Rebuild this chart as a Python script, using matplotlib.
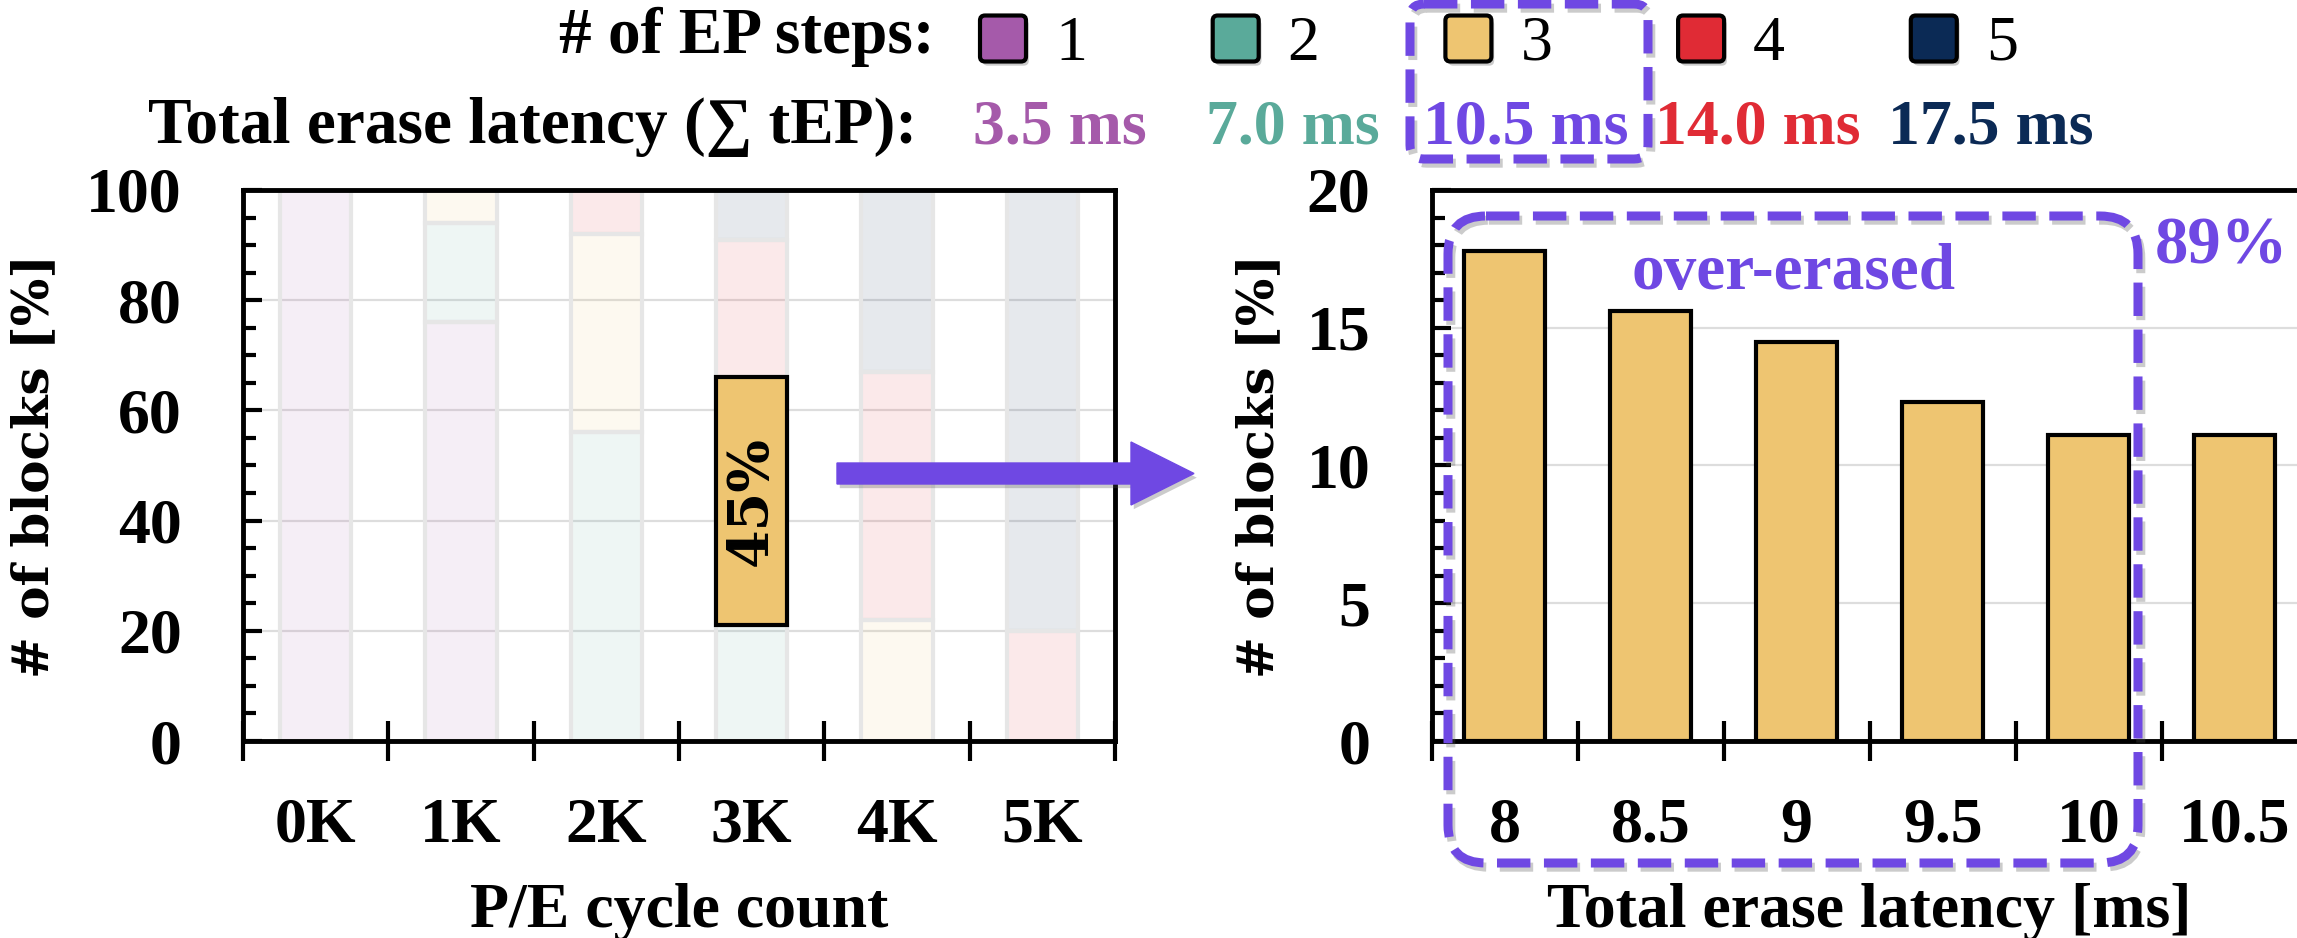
import matplotlib
matplotlib.use("Agg")
import numpy as np
import matplotlib.pyplot as plt
import matplotlib.patheffects as pe
from matplotlib.patches import FancyBboxPatch, FancyArrow
from matplotlib.colors import to_rgba
from matplotlib.ticker import MultipleLocator, FixedLocator

# ---- data -------------------------------------------------------------
pe_cycles = ["0K", "1K", "2K", "3K", "4K", "5K"]
ep_steps = [1, 2, 3, 4, 5]
total_latency_ms = [3.5, 7.0, 10.5, 14.0, 17.5]

# share of blocks [%] needing n erase-pulse steps, per P/E cycle count
share_1step = [100, 76, 0, 0, 0, 0]
share_2step = [0, 18, 56, 21, 0, 0]
share_3step = [0, 6, 36, 45, 22, 0]
share_4step = [0, 0, 8, 25, 45, 20]
share_5step = [0, 0, 0, 9, 33, 80]
highlight_cycle = "3K"
highlight_step = 3

# distribution of the 3-step blocks over total erase latency
latency_bins = ["8", "8.5", "9", "9.5", "10", "10.5"]
block_share = [17.8, 15.6, 14.5, 12.3, 11.1, 11.1]
over_erased_pct = 89

step_colors = ["#A55AAA", "#5AAA9A", "#EEC571", "#E02B35", "#0B2A55"]
accent = "#6F48E3"

# ---- figure setup -----------------------------------------------------
plt.rcParams["font.family"] = ["Liberation Serif", "DejaVu Serif"]
plt.rcParams["font.weight"] = "bold"

W, H = 2297, 938
fig = plt.figure(figsize=(W / 100, H / 100), dpi=100)
fig.patch.set_facecolor("white")

axL = fig.add_axes([243 / W, 197 / H, 872 / W, 551 / H])
axR = fig.add_axes([1431.6 / W, 197 / H, 876 / W, 551 / H])


def style_axes(ax, labels, ymax, major, minor):
    n = len(labels)
    ax.set_xlim(-0.5, n - 0.5)
    ax.set_ylim(0, ymax)
    ax.yaxis.set_major_locator(MultipleLocator(major))
    ax.yaxis.set_minor_locator(MultipleLocator(minor))
    ax.tick_params(axis="y", which="major", direction="in", length=14,
                   width=3, pad=44, labelsize=46)
    ax.tick_params(axis="y", which="minor", direction="in", length=9, width=3)
    ax.set_xticks(range(n))
    ax.set_xticklabels(labels)
    ax.xaxis.set_minor_locator(FixedLocator(np.arange(-0.5, n, 1.0)))
    ax.tick_params(axis="x", which="major", length=0, pad=41, labelsize=46)
    ax.tick_params(axis="x", which="minor", direction="inout", length=29, width=3)
    for s in ax.spines.values():
        s.set_linewidth(3.5)
    ax.grid(axis="y", which="major", color="#dddddd", lw=1.6)
    ax.set_axisbelow(True)


# ---- left: stacked share of EP steps ---------------------------------
style_axes(axL, pe_cycles, 100, 20, 5)
x = np.arange(len(pe_cycles))
shares = [share_1step, share_2step, share_3step, share_4step, share_5step]
bottom = np.zeros(len(pe_cycles))
for vals, col in zip(shares, step_colors):
    vals = np.array(vals, dtype=float)
    m = vals > 0
    axL.bar(x[m], vals[m], width=0.49, bottom=bottom[m],
            facecolor=to_rgba(col, 0.1), edgecolor="#e6e6e6", linewidth=3, zorder=2)
    bottom += vals

hi = pe_cycles.index(highlight_cycle)
k = highlight_step - 1
hi_bottom = sum(shares[j][hi] for j in range(k))
hi_val = shares[k][hi]
axL.bar([hi], [hi_val], width=0.49, bottom=[hi_bottom],
        facecolor=step_colors[k], edgecolor="black", linewidth=3, zorder=3)
axL.text(hi, hi_bottom + hi_val / 2, f"{hi_val}%", rotation=90,
         ha="center", va="center", family=["DejaVu Serif"], fontsize=40,
         fontweight="bold", zorder=4)

axL.set_xlabel("P/E cycle count", fontsize=46, fontweight="bold", va="baseline")
axL.xaxis.set_label_coords(0.5, (741 - 927) / 551)
axL.set_ylabel("# of blocks [%]", family=["DejaVu Serif"], fontsize=36,
               fontweight="bold", va="center")
axL.yaxis.set_label_coords((35 - 243) / 872, 0.5)

# ---- right: latency distribution -------------------------------------
style_axes(axR, latency_bins, 20, 5, 1)
axR.bar(np.arange(len(latency_bins)), block_share, width=0.56,
        facecolor=step_colors[2], edgecolor="black", linewidth=3, zorder=2)
axR.set_xlabel("Total erase latency [ms]", fontsize=46, fontweight="bold",
               va="baseline")
axR.xaxis.set_label_coords(0.5, (741 - 927) / 551)
axR.set_ylabel("# of blocks [%]", family=["DejaVu Serif"], fontsize=36,
               fontweight="bold", va="center")
axR.yaxis.set_label_coords((1260 - 1431.6) / 876, 0.5)

# ---- overlay in pixel units for legend and annotations ----------------
ov = fig.add_axes([0, 0, 1, 1], zorder=10)
ov.set_xlim(0, W)
ov.set_ylim(H, 0)
ov.axis("off")
ov.patch.set_alpha(0)

fill_shadow = [pe.SimplePatchShadow(offset=(2, -3), shadow_rgbFace="#555555",
                                    alpha=0.3), pe.Normal()]
line_shadow = [pe.SimpleLineShadow(offset=(2, -3), shadow_color="#555555",
                                   alpha=0.3), pe.Normal()]

ov.text(935, 53, "# of EP steps:", ha="right", va="baseline", fontsize=47,
        fontweight="bold")
ov.text(917, 143, "Total erase latency (\u2211 tEP):", ha="right",
        va="baseline", fontsize=47, fontweight="bold")

px0, dpx = 1003, 232.7
for i, (step, lat, col) in enumerate(zip(ep_steps, total_latency_ms, step_colors)):
    cx = px0 + i * dpx
    ov.add_patch(FancyBboxPatch((cx - 23, 38.5 - 23), 46, 46,
                                boxstyle="round,pad=0,rounding_size=5",
                                facecolor=col, edgecolor="black", lw=3,
                                path_effects=fill_shadow))
    ov.text(cx + 52, 60, str(step), ha="left", va="baseline", fontsize=46,
            fontweight="normal")
    txt_col = accent if step == highlight_step else col
    ov.text(cx + 57, 143, f"{lat:.1f} ms", ha="center", va="baseline",
            fontsize=46, fontweight="bold", color=txt_col)

dash = (0, (3.7, 1.5))
# frame around the highlighted step in the legend
ov.add_patch(FancyBboxPatch((1410, 4), 238, 155,
                            boxstyle="round,pad=0,rounding_size=14",
                            fill=False, edgecolor=accent, lw=6.5, linestyle=dash,
                            path_effects=line_shadow))
# frame around the over-erased latency bins
ov.add_patch(FancyBboxPatch((1448, 216), 690, 647,
                            boxstyle="round,pad=0,rounding_size=38",
                            fill=False, edgecolor=accent, lw=6.5, linestyle=dash,
                            path_effects=line_shadow))

ov.add_patch(FancyArrow(837, 473.5, 1194 - 837, 0, width=21, head_width=63,
                        head_length=63, length_includes_head=True,
                        color=accent, path_effects=fill_shadow))

ov.text(1793, 289, "over-erased", ha="center", va="baseline", fontsize=47,
        fontweight="bold", color=accent)
ov.text(2155, 263, f"{over_erased_pct}%", ha="left", va="baseline",
        fontsize=48, fontweight="bold", color=accent)

fig.savefig("out.png", dpi=100, facecolor="white")
